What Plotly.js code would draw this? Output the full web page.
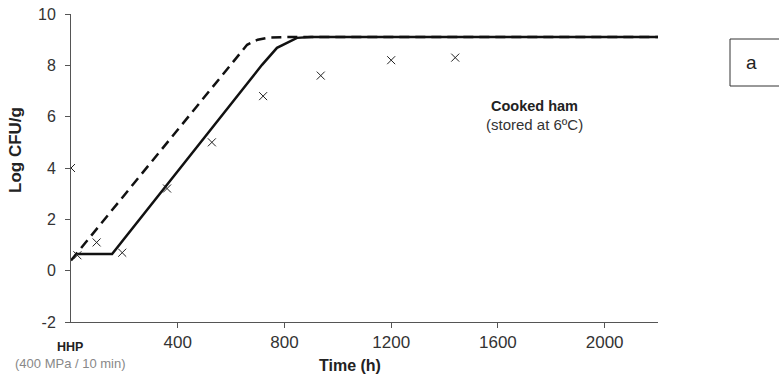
<!DOCTYPE html>
<html><head><meta charset="utf-8">
<script src="https://cdn.plot.ly/plotly-3.0.1.min.js"></script>
<style>html,body{margin:0;padding:0;background:#fff}#chart{width:779px;height:379px}</style>
</head><body><div id="chart"></div>
<script>
// observed counts
const obsTime = [0, 24, 96, 192, 360, 528, 720, 936, 1200, 1440];
const obsLog  = [4.0, 0.6, 1.1, 0.7, 3.2, 5.0, 6.8, 7.6, 8.2, 8.3];
// model 1 (solid)
const solidTime = [24, 154, 671, 716, 772, 847, 900, 2200];
const solidLog  = [0.65, 0.65, 7.43, 8.02, 8.68, 9.07, 9.1, 9.1];
// model 2 (dashed)
const dashTime = [0, 630, 660, 700, 740, 800, 2200];
const dashLog  = [0.4, 8.45, 8.8, 9.0, 9.08, 9.1, 9.1];
const xTicks = [400, 800, 1200, 1600, 2000];
const yTicks = [-2, 0, 2, 4, 6, 8, 10];
const yTickText = ['-2', '0', '2', '4', '6', '8', '10'];

const font = 'Liberation Sans, Arial, sans-serif';
const L = 71, T = 14, W = 587, H = 308;
const px = (x) => (x - L) / W;
const py = (y) => 1 - (y - T) / H;
const data = [
  {x: dashTime, y: dashLog, mode: 'lines', line: {color: '#111', width: 2.5, dash: '10px,6px'}, hoverinfo: 'skip'},
  {x: solidTime, y: solidLog, mode: 'lines', line: {color: '#111', width: 2.5}, hoverinfo: 'skip'},
  {x: obsTime, y: obsLog, mode: 'markers', marker: {symbol: 'x-thin-open', size: 8, color: '#222', line: {color: '#222', width: 1}}, hoverinfo: 'skip'}
];
const ann = (text, x, y, size, color, extra) => Object.assign({text, xref: 'paper', yref: 'paper', x: px(x), y: py(y),
  xanchor: 'center', yanchor: 'middle', showarrow: false, font: {size, color}}, extra || {});
const layout = {
  width: 779, height: 379, showlegend: false,
  paper_bgcolor: '#fff', plot_bgcolor: '#fff',
  margin: {l: 71, r: 121, t: 14, b: 57},
  font: {family: font, color: '#333', size: 16},
  xaxis: {range: [0, 2200], tickvals: xTicks, ticks: 'outside', ticklen: 5, tickcolor: '#555',
    showline: true, linecolor: '#555', linewidth: 1, showgrid: false, zeroline: false,
    tickfont: {size: 17, color: '#333'}},
  yaxis: {range: [-2, 10], tickvals: yTicks, ticktext: yTickText, ticks: 'outside', ticklen: 5, tickcolor: '#555',
    showline: true, linecolor: '#555', linewidth: 1, showgrid: false, zeroline: false,
    ticklabelstandoff: 6, tickfont: {size: 16, color: '#333'}},
  shapes: [
    {type: 'rect', xref: 'paper', yref: 'paper', x0: px(730), x1: px(800), y0: py(86), y1: py(39),
      line: {color: '#333', width: 1}, fillcolor: 'rgba(0,0,0,0)'}
  ],
  annotations: [
    ann('<b>Cooked ham</b>', 534, 106, 14.5, '#222'),
    ann('(stored at 6ºC)', 534, 124, 15, '#333'),
    ann('<b>Time (h)</b>', 350, 365, 16, '#222'),
    ann('<b>Log CFU/g</b>', 16, 150, 17, '#222', {textangle: -90}),
    ann('<b>HHP</b>', 70, 347, 12.5, '#222'),
    ann('(400 MPa / 10 min)', 70, 363, 13, '#888'),
    ann('a', 752, 63, 19, '#222')
  ]
};
Plotly.newPlot('chart', data, layout, {staticPlot: true, displayModeBar: false});
</script></body></html>
